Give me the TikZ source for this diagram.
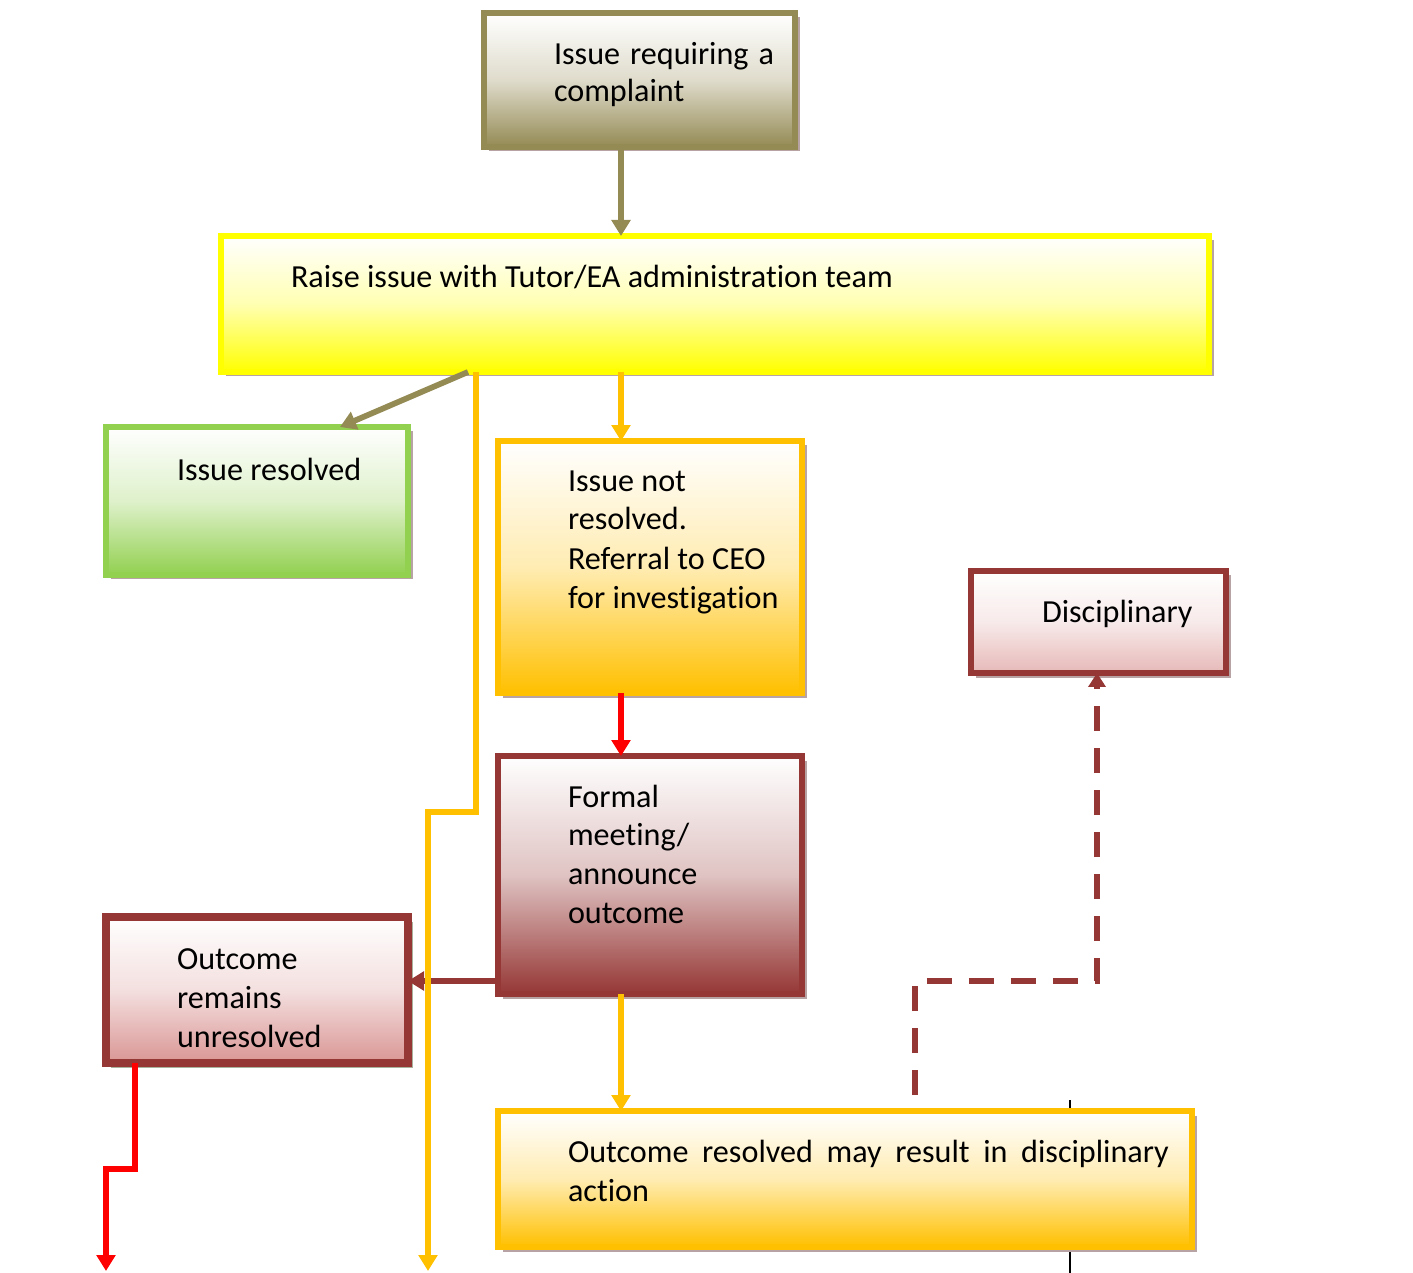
\documentclass[tikz,border=0pt]{standalone}
\usepackage{fontspec}
\setmainfont[RawFeature={-liga}]{Carlito}
\usetikzlibrary{arrows.meta,fit,shadows}
\definecolor{oliveb}{HTML}{948A54}
\definecolor{yel}{HTML}{FFFF00}
\definecolor{grn}{HTML}{92D050}
\definecolor{org}{HTML}{FFC000}
\definecolor{dred}{HTML}{953735}
\definecolor{pinkb}{HTML}{E6B9B8}
\definecolor{rosey}{HTML}{D99694}
\definecolor{shadowc}{HTML}{B7A3A3}
\definecolor{shadowg}{HTML}{A9B29C}
\begin{document}
\begin{tikzpicture}[x=0.02cm,y=-0.02cm,
  box/.style 2 args={draw=#1, line width=0.13cm, inner sep=0pt, outer sep=0pt,
    top color=white, bottom color=#2, middle color=#2!30!white,
    drop shadow={shadow xshift=0.09cm, shadow yshift=-0.09cm, fill=shadowc, opacity=1}},
  lbl/.style={anchor=base west, inner sep=0pt, outer sep=0pt, font=\fontsize{18.3pt}{22pt}\selectfont},
  conn/.style={line width=0.115cm, -{Triangle[width=0.37cm,length=0.32cm]}},
  dashconn/.style={line width=0.11cm, dash pattern=on 0.5cm off 0.34cm, draw=dred, -{Triangle[width=0.34cm,length=0.28cm]}}]
\useasboundingbox (0,0) rectangle (1413,1273);

% thin black line behind the last box
\coordinate (tla) at (1070,1100);
\coordinate (tlb) at (1070,1273);
\draw[line width=0.9pt] (tla) -- (tlb);

% boxes
\node[box={oliveb}{oliveb}, fit={(484,13) (795,147)}] (top) {};
\node[box={yel}{yel}, fit={(221,236) (1209,372)}] (raise) {};
\node[box={grn}{grn}, fit={(106,427) (408,575)}] (resolved) {};
\node[box={org}{org}, fit={(498,441) (802,693)}] (notres) {};
\node[box={dred}{pinkb}, fit={(971,571) (1226,673)}] (disc) {};
\node[box={dred}{dred}, fit={(498,756) (802,994)}] (formal) {};
\node[box={dred}{rosey}, line width=0.15cm, drop shadow={shadow xshift=0.09cm, shadow yshift=-0.09cm, fill=shadowg, opacity=1}, fit={(106,917) (408,1063)}] (unres) {};
\node[box={org}{org}, fit={(498,1111) (1192,1247)}] (outres) {};

% texts
\node[lbl] (t1a) at (554,65) {\makebox[4.4cm][s]{Issue requiring a}};
\node[lbl] (t1b) at (554,102) {complaint};
\node[lbl] (t2) at (291,288) {Raise issue with Tutor/EA administration team};
\node[lbl] (t3) at (177,481) {Issue resolved};
\node[lbl] (t4a) at (568,492) {Issue not};
\node[lbl] (t4b) at (568,530) {resolved.};
\node[lbl] (t4c) at (568,569) {Referral to CEO};
\node[lbl] (t4d) at (568,608) {for investigation};
\node[lbl] (t5) at (1042,622) {Disciplinary};
\node[lbl] (t6a) at (568,807) {Formal};
\node[lbl] (t6b) at (568,845) {meeting/};
\node[lbl] (t6c) at (568,884) {announce};
\node[lbl] (t6d) at (568,923) {outcome};
\node[lbl] (t7a) at (177,969) {Outcome};
\node[lbl] (t7b) at (177,1008) {remains};
\node[lbl] (t7c) at (177,1047) {unresolved};
\node[lbl] (t8a) at (568,1162) {\makebox[12.02cm][s]{Outcome resolved may result in disciplinary}};
\node[lbl] (t8b) at (568,1201) {action};

% free ends
\coordinate (oend) at (428,1271);
\coordinate (rend) at (106,1271);
\coordinate (dstart) at (915,1095);

% connectors
\draw[conn, draw=oliveb] (top.south -| 621,0) -- (raise.north -| 621,0);
\draw[conn, draw=oliveb] (raise.south -| 468,0) -- (resolved.north -| 340,0);
\draw[conn, draw=org] (raise.south -| 621,0) -- (notres.north -| 621,0);
\draw[conn, draw=red] (notres.south -| 621,0) -- (formal.north -| 621,0);
\draw[conn, draw=dred] (formal.west |- 0,981) -- (unres.east |- 0,981);
\draw[conn, draw=org] (raise.south -| 476,0) -- (476,812) -- (428,812) -- (oend);
\draw[conn, draw=org] (formal.south -| 621,0) -- (outres.north -| 621,0);
\draw[conn, draw=red] (unres.south -| 135,0) -- (135,1169) -- (106,1169) -- (rend);
\draw[dashconn] (dstart) -- (915,981) -- (1097,981) -- (disc.south -| 1097,0);
\end{tikzpicture}
\end{document}
